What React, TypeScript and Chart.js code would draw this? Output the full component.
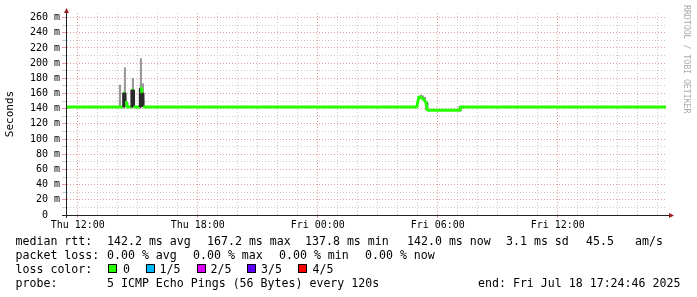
import React, { useEffect, useRef } from 'react';
import { Chart, registerables } from 'chart.js';

Chart.register(...registerables);

// Time axis: hours since Thu 00:00
const START_HOUR = 11 + 24 / 60 + 46 / 3600; // Thu 11:24:46
const END_HOUR = START_HOUR + 30; // Fri 17:24:46
const Y_MAX = 266;

const hourTicks = [12, 13, 14, 15, 16, 17, 18, 19, 20, 21, 22, 23, 24, 25, 26, 27, 28, 29, 30, 31, 32, 33, 34, 35, 36, 37, 38, 39, 40, 41];
const valueTicks = [0, 10, 20, 30, 40, 50, 60, 70, 80, 90, 100, 110, 120, 130, 140, 150, 160, 170, 180, 190, 200, 210, 220, 230, 240, 250, 260];

// Median RTT (ms), breakpoints
const medianHours = [START_HOUR, 14.29, 14.3, 14.36, 14.37, 14.44, 14.45, 14.7, 14.71, 14.78, 14.79, 15.12, 15.13, 15.19, 15.2, 15.26, 15.27, 28.96, 29.01, 29.06, 29.11, 29.21, 29.31, 29.41, 29.46, 29.51, 31.11, 31.14, END_HOUR];
const medianValues = [142.2, 142.2, 161, 161, 148, 148, 142.2, 142.2, 165, 165, 142.2, 142.2, 167, 167, 161, 161, 142.2, 142.2, 150, 156, 155, 154, 152, 148, 140, 137.8, 137.8, 142.2, 142.2];

// Light smoke (spread of pings)
const lightSmokeHours = [14.11, 14.36, 14.76, 15.16, 15.26, 29.16, 29.26, 29.36];
const lightSmokeLow = [143.5, 161, 165, 167, 161, 155, 153, 150];
const lightSmokeHigh = [171, 194, 180, 206, 173, 158, 157, 155];

// Dark smoke
const darkSmokeHours = [14.31, 14.46, 14.74, 15.14, 29.46, 31.12];
const darkSmokeLow = [143, 143, 143, 143, 138, 137];
const darkSmokeHigh = [161, 148, 165, 167, 148, 143];

const rttLabel = 'median rtt:';
const rttStats = ['142.2 ms avg', '167.2 ms max', '137.8 ms min', '142.0 ms now', '3.1 ms sd', '45.5', 'am/s'];
const lossLabel = 'packet loss:';
const lossStats = ['0.00 % avg', '0.00 % max', '0.00 % min', '0.00 % now'];
const lossColorLabel = 'loss color:';
const lossNames = ['0', '1/5', '2/5', '3/5', '4/5'];
const lossColors = ['#26ff00', '#00b8ff', '#dd00ff', '#5e00ff', '#ff0000'];
const probeLabel = 'probe:';
const probeText = '5 ICMP Echo Pings (56 Bytes) every 120s';
const endText = 'end: Fri Jul 18 17:24:46 2025';
const yTitle = 'Seconds';
const watermark = 'RRDTOOL / TOBI OETIKER';

const MONO = '"DejaVu Sans Mono", monospace';
const MAJOR = 'rgba(225,130,130,0.8)';
const MINOR = '#cccccc';
const AXIS = '#222';
const ARROW = '#9a1c1c';

const decorPlugin = {
  id: 'rrdDecor',
  afterDraw(chart: any) {
    const { ctx, chartArea } = chart;
    const { left, right, top, bottom } = chartArea;
    ctx.save();
    ctx.strokeStyle = AXIS;
    ctx.lineWidth = 1;
    ctx.beginPath();
    ctx.moveTo(left - 4, Math.round(bottom) + 0.5);
    ctx.lineTo(right + 4, Math.round(bottom) + 0.5);
    ctx.moveTo(Math.round(left) + 0.5, bottom + 3);
    ctx.lineTo(Math.round(left) + 0.5, top - 2);
    ctx.stroke();
    ctx.fillStyle = ARROW;
    const ax = Math.round(left) + 0.5;
    ctx.beginPath();
    ctx.moveTo(ax, top - 5);
    ctx.lineTo(ax - 2.5, top);
    ctx.lineTo(ax + 2.5, top);
    ctx.closePath();
    ctx.fill();
    const by = Math.round(bottom) + 0.5;
    ctx.beginPath();
    ctx.moveTo(right + 8, by);
    ctx.lineTo(right + 3, by - 2.5);
    ctx.lineTo(right + 3, by + 2.5);
    ctx.closePath();
    ctx.fill();
    ctx.translate(chart.width - 11, 5);
    ctx.rotate(Math.PI / 2);
    ctx.font = '8.2px ' + MONO;
    ctx.fillStyle = '#ababab';
    ctx.textBaseline = 'middle';
    ctx.textAlign = 'left';
    ctx.fillText(watermark, 0, 0);
    ctx.restore();
  },
};

function hourLabel(v: number) {
  const n = Math.round(v);
  if (Math.abs(v - n) > 1e-6 || n % 6 !== 0) return '';
  const day = n < 24 ? 'Thu' : 'Fri';
  const hh = n % 24;
  return `${day} ${String(hh).padStart(2, '0')}:00`;
}

export default function App() {
  const canvasRef = useRef<HTMLCanvasElement | null>(null);

  useEffect(() => {
    const canvas = canvasRef.current;
    if (!canvas) return;
    const chart = new Chart(canvas, {
      type: 'line',
      data: {
        datasets: [
          {
            type: 'line',
            data: medianHours.map((x, i) => ({ x, y: medianValues[i] })),
            borderColor: lossColors[0],
            borderWidth: 3,
            pointRadius: 0,
            borderJoinStyle: 'bevel',
            borderCapStyle: 'butt',
            tension: 0,
            segment: {
              borderColor: (c: any) => {
                const dx = Math.abs(c.p1.x - c.p0.x);
                const dy = Math.abs(c.p1.y - c.p0.y);
                return dy > 8 && dx < 1 ? '#2a2a2a' : lossColors[0];
              },
            },
          } as any,
          {
            type: 'bar',
            data: darkSmokeHours.map((x, i) => ({ x, y: [darkSmokeLow[i], darkSmokeHigh[i]] })),
            backgroundColor: '#3a3a3a',
            borderWidth: 0,
            barThickness: 2,
            grouped: false,
          } as any,
          {
            type: 'bar',
            data: lightSmokeHours.map((x, i) => ({ x, y: [lightSmokeLow[i], lightSmokeHigh[i]] })),
            backgroundColor: '#9a9a9a',
            borderWidth: 0,
            barThickness: 1.5,
            grouped: false,
          } as any,
        ],
      },
      options: {
        responsive: false,
        animation: false,
        devicePixelRatio: 1,
        layout: { padding: { top: 13, right: 31, bottom: 0, left: 0 } },
        plugins: { legend: { display: false }, tooltip: { enabled: false } },
        scales: {
          x: {
            type: 'linear',
            min: START_HOUR,
            max: END_HOUR,
            offset: false,
            afterBuildTicks: (scale: any) => {
              scale.ticks = hourTicks.map((value) => ({ value }));
            },
            afterFit: (scale: any) => {
              scale.height = 82;
            },
            grid: {
              offset: false,
              color: (c: any) => (c.tick && Math.round(c.tick.value) % 6 === 0 ? MAJOR : MINOR),
              tickColor: (c: any) => (c.tick && Math.round(c.tick.value) % 6 === 0 ? MAJOR : 'rgba(0,0,0,0)'),
              lineWidth: 1,
              drawTicks: true,
              tickLength: 3,
            },
            border: { display: true, color: AXIS, width: 1, dash: [1, 2] },
            ticks: {
              autoSkip: false,
              maxRotation: 0,
              minRotation: 0,
              padding: 1,
              color: '#000',
              font: { family: MONO, size: 10 },
              callback: (v: any) => hourLabel(Number(v)),
            },
          },
          y: {
            type: 'linear',
            min: 0,
            max: Y_MAX,
            afterBuildTicks: (scale: any) => {
              scale.ticks = valueTicks.map((value) => ({ value }));
            },
            afterFit: (scale: any) => {
              scale.width = 66;
            },
            grid: {
              color: (c: any) => (c.tick && c.tick.value % 20 === 0 ? MAJOR : MINOR),
              tickColor: (c: any) => (c.tick && c.tick.value % 20 === 0 ? MAJOR : MINOR),
              lineWidth: 1,
              drawTicks: true,
              tickLength: 4,
            },
            border: { display: true, color: AXIS, width: 1, dash: [1, 2] },
            title: {
              display: true,
              text: yTitle,
              color: '#000',
              font: { family: MONO, size: 11 },
              padding: { top: 4, bottom: 0 },
            },
            ticks: {
              autoSkip: false,
              padding: 2,
              color: '#000',
              font: { family: MONO, size: 10 },
              callback: (v: any) => {
                const n = Number(v);
                if (n % 20 !== 0) return '';
                return n === 0 ? '0  ' : `${n} m`;
              },
            },
          },
        },
      } as any,
      plugins: [decorPlugin],
    });
    return () => chart.destroy();
  }, []);

  const textStyle = (left: number, row: number): React.CSSProperties => ({
    position: 'absolute',
    left,
    top: 234 + row * 14,
    font: `11.6px ${MONO}`,
    lineHeight: '14px',
    whiteSpace: 'pre',
    color: '#000',
  });

  const rttX = [107, 207, 305, 407, 506, 586, 635];
  const lossX = [107, 193, 279, 365];
  const boxX = [108, 145.5, 196.5, 247, 298];
  const nameX = [123, 159.5, 210.5, 261, 312.5];

  return (
    <div style={{ position: 'absolute', left: 0, top: 0, width: 697, height: 297, background: '#fff' }}>
      <canvas ref={canvasRef} width={697} height={297} style={{ display: 'block', width: 697, height: 297 }} />
      <span style={textStyle(15.5, 0)}>{rttLabel}</span>
      {rttStats.map((t, i) => (
        <span key={'r' + i} style={textStyle(rttX[i], 0)}>{t}</span>
      ))}
      <span style={textStyle(15.5, 1)}>{lossLabel}</span>
      {lossStats.map((t, i) => (
        <span key={'l' + i} style={textStyle(lossX[i], 1)}>{t}</span>
      ))}
      <span style={textStyle(15.5, 2)}>{lossColorLabel}</span>
      {lossNames.map((t, i) => (
        <React.Fragment key={'c' + i}>
          <span
            style={{
              position: 'absolute',
              left: boxX[i],
              top: 264,
              width: 9,
              height: 9,
              boxSizing: 'border-box',
              border: '1px solid #000',
              background: lossColors[i],
            }}
          />
          <span style={textStyle(nameX[i], 2)}>{t}</span>
        </React.Fragment>
      ))}
      <span style={textStyle(15.5, 3)}>{probeLabel}</span>
      <span style={textStyle(107, 3)}>{probeText}</span>
      <span style={textStyle(478, 3)}>{endText}</span>
    </div>
  );
}
